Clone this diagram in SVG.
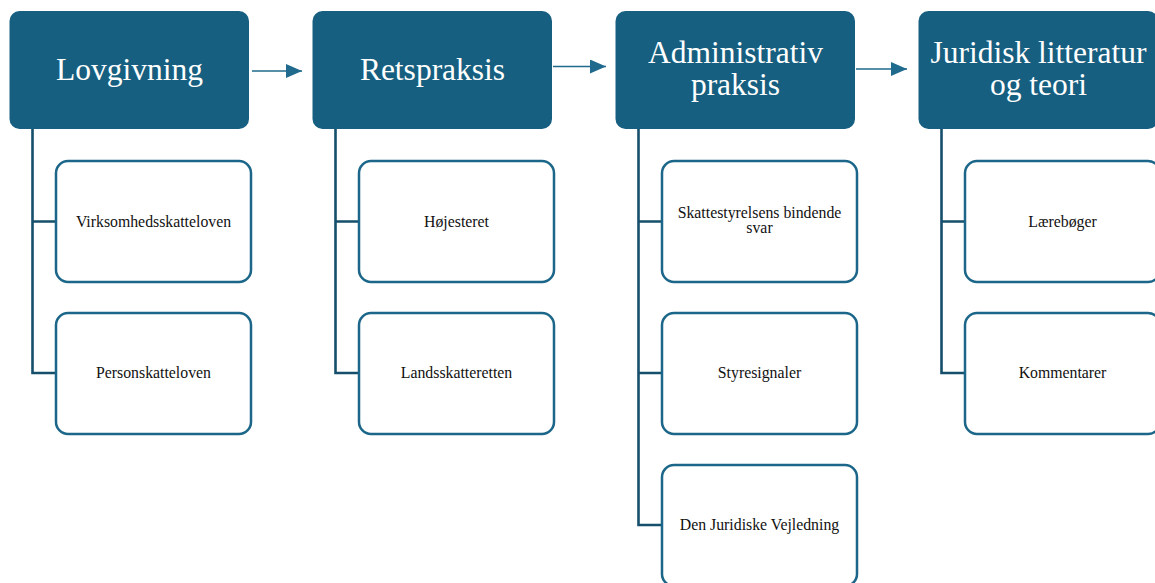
<svg xmlns="http://www.w3.org/2000/svg" width="1155" height="583" viewBox="0 0 1155 583">
<style>
.hdr{fill:#175F80}
.ht{font-family:"Liberation Serif","Times New Roman",serif;font-size:31.5px;fill:#FFFFFF;text-anchor:middle}
.ch{fill:#FFFFFF;stroke:#1B6689;stroke-width:2.5}
.ct{font-family:"Liberation Serif","Times New Roman",serif;font-size:15.8px;fill:#111111;text-anchor:middle}
.tree{fill:none;stroke:#154F6B;stroke-width:2.6}
.arr{fill:none;stroke:#1F6A8D;stroke-width:1.5}
</style>
<defs>
<marker id="ah" viewBox="0 0 16 14" refX="16" refY="7" markerWidth="16" markerHeight="14" markerUnits="userSpaceOnUse" orient="auto">
<path d="M0,0 L16,7 L0,14 Z" fill="#1F6A8D"/>
</marker>
</defs>
<rect width="1155" height="583" fill="#FFFFFF"/>
<g id="connectors">
<path class="tree" d="M32.5,129 V373 H56 M32.5,221.5 H56"/>
<path class="tree" d="M335.5,129 V373 H359 M335.5,221.5 H359"/>
<path class="tree" d="M638.5,129 V525 H662 M638.5,221.5 H662 M638.5,373 H662"/>
<path class="tree" d="M941.5,129 V373 H965 M941.5,221.5 H965"/>
<line class="arr" x1="252" y1="71" x2="302" y2="71" marker-end="url(#ah)"/>
<line class="arr" x1="553" y1="66.5" x2="606" y2="66.5" marker-end="url(#ah)"/>
<line class="arr" x1="856" y1="69" x2="907" y2="69" marker-end="url(#ah)"/>
</g>
<g id="n-lovgivning">
<rect class="hdr" x="9.5" y="11" width="239.5" height="118" rx="10"/>
<text class="ht" x="129.5" y="80">Lovgivning</text>
</g>
<g id="n-retspraksis">
<rect class="hdr" x="312.5" y="11" width="239.5" height="118" rx="10"/>
<text class="ht" x="432.5" y="80">Retspraksis</text>
</g>
<g id="n-administrativ">
<rect class="hdr" x="615.5" y="11" width="239.5" height="118" rx="10"/>
<text class="ht" x="735.5" y="63">Administrativ</text>
<text class="ht" x="735.5" y="95">praksis</text>
</g>
<g id="n-juridisk">
<rect class="hdr" x="918.5" y="11" width="239.5" height="118" rx="10"/>
<text class="ht" x="1038.5" y="63">Juridisk litteratur</text>
<text class="ht" x="1038.5" y="95">og teori</text>
</g>
<g id="c-virksomhed">
<rect class="ch" x="56" y="161" width="195" height="121" rx="12"/>
<text class="ct" x="153.5" y="226.5">Virksomhedsskatteloven</text>
</g>
<g id="c-person">
<rect class="ch" x="56" y="313" width="195" height="121" rx="12"/>
<text class="ct" x="153.5" y="378">Personskatteloven</text>
</g>
<g id="c-hoejesteret">
<rect class="ch" x="359" y="161" width="195" height="121" rx="12"/>
<text class="ct" x="456.5" y="226.5">Højesteret</text>
</g>
<g id="c-landsskatteretten">
<rect class="ch" x="359" y="313" width="195" height="121" rx="12"/>
<text class="ct" x="456.5" y="378">Landsskatteretten</text>
</g>
<g id="c-bindende">
<rect class="ch" x="662" y="161" width="195" height="121" rx="12"/>
<text class="ct" x="759.5" y="218.3">Skattestyrelsens bindende</text>
<text class="ct" x="759.5" y="233.3">svar</text>
</g>
<g id="c-styresignaler">
<rect class="ch" x="662" y="313" width="195" height="121" rx="12"/>
<text class="ct" x="759.5" y="378">Styresignaler</text>
</g>
<g id="c-vejledning">
<rect class="ch" x="662" y="465" width="195" height="121" rx="12"/>
<text class="ct" x="759.5" y="530">Den Juridiske Vejledning</text>
</g>
<g id="c-laereboeger">
<rect class="ch" x="965" y="161" width="195" height="121" rx="12"/>
<text class="ct" x="1062.5" y="226.5">Lærebøger</text>
</g>
<g id="c-kommentarer">
<rect class="ch" x="965" y="313" width="195" height="121" rx="12"/>
<text class="ct" x="1062.5" y="378">Kommentarer</text>
</g>
</svg>
